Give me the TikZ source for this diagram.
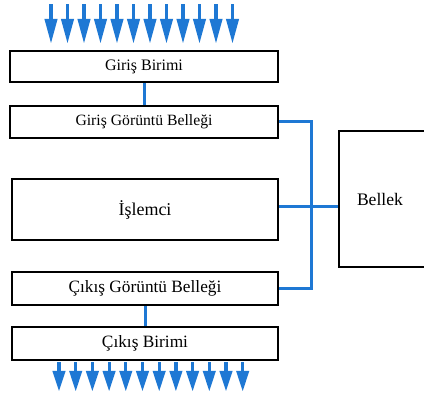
\documentclass[tikz,border=0pt]{standalone}
\usepackage{fontspec}
\setmainfont{Liberation Serif}
\definecolor{busblue}{RGB}{30,120,212}
\tikzset{
  unitbox/.style={draw=black, line width=2.4pt, fill=white, inner sep=0pt, anchor=center},
  bus/.style={draw=busblue, line width=3pt},
  flowarrow/.style={fill=busblue, draw=none},
}
\begin{document}
\begin{tikzpicture}[x=1pt,y=-1pt]
\useasboundingbox (0,0) rectangle (424,403);
\fill[white] (0,0) rectangle (424,403);

% boxes
\node[unitbox, minimum width=268pt, minimum height=31pt, font=\fontsize{16}{18}\selectfont] (gb) at (144,66.5) {Giriş Birimi};
\node[unitbox, minimum width=268pt, minimum height=32pt, font=\fontsize{15.7}{18}\selectfont] (ggb) at (144,122) {Giriş Görüntü Belleği};
\node[unitbox, minimum width=266pt, minimum height=61pt, font=\fontsize{18}{20}\selectfont] (isl) at (145,209.5) {İşlemci};
\node[unitbox, minimum width=266pt, minimum height=33pt, font=\fontsize{17.3}{20}\selectfont] (cgb) at (145,288.5) {Çıkış Görüntü Belleği};
\node[unitbox, minimum width=266pt, minimum height=33pt, font=\fontsize{17.3}{20}\selectfont] (cb) at (145,343.5) {Çıkış Birimi};
\node[unitbox, minimum width=90pt, minimum height=136pt, font=\fontsize{17.6}{20}\selectfont, text width=80pt, align=left] (bel) at (384,199) {\hspace*{13pt}Bellek};

% connectors
\coordinate (bt) at (311,122);
\coordinate (bb) at (311,288.5);
\draw[bus] (gb.south) -- (ggb.north);
\draw[bus] (cgb.south) -- (cb.north);
\draw[bus] (ggb.east) -- (bt) -- (bb) -- (cgb.east);
\draw[bus] ([yshift=2.5pt]isl.east) -- ([yshift=2.5pt]isl.east -| bel.west);

% input arrows
\foreach \i in {0,...,11}{
  \pgfmathsetmacro{\xx}{51+\i*16.5}
  \fill[flowarrow] (\xx-1.6,4) rectangle (\xx+1.6,21);
  \fill[flowarrow] (\xx-6.6,19) -- (\xx+6.6,19) -- (\xx,43) -- cycle;
}
% output arrows
\foreach \i in {0,...,11}{
  \pgfmathsetmacro{\xx}{59+\i*16.7}
  \fill[flowarrow] (\xx-1.6,362) rectangle (\xx+1.6,374);
  \fill[flowarrow] (\xx-6.6,371) -- (\xx+6.6,371) -- (\xx,391) -- cycle;
}
\end{tikzpicture}
\end{document}
